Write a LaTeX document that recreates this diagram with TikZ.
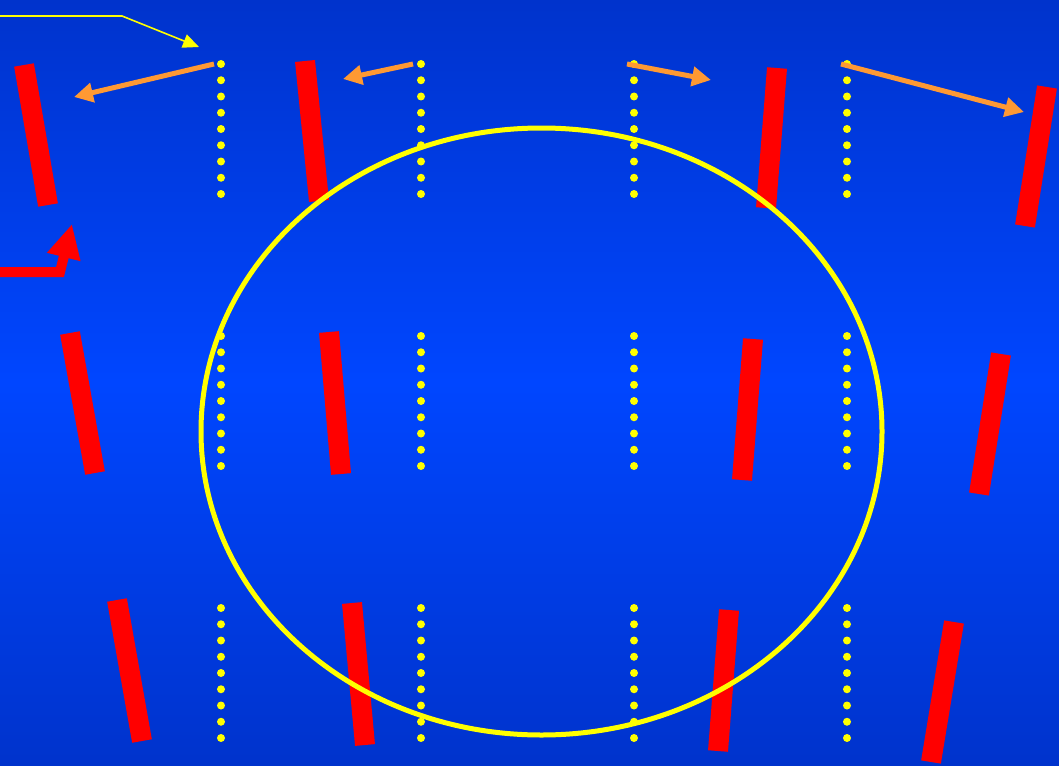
\documentclass[tikz,border=0pt]{standalone}
\usetikzlibrary{arrows.meta}
\definecolor{bgtop}{RGB}{0,51,204}
\definecolor{bgmid}{RGB}{0,70,255}
\definecolor{barred}{RGB}{255,0,0}
\definecolor{dotyel}{RGB}{255,255,0}
\definecolor{orng}{RGB}{255,153,51}
\tikzset{
  bar/.style={barred, line width=20pt},
  dotc/.style={dotyel},
  orarrow/.style={orng, line width=5pt, -{Triangle[length=19pt,width=19pt]}},
  ylarrow/.style={dotyel, line width=1.6pt, -{Triangle[length=16pt,width=14pt]}},
  redarrow/.style={barred, line width=10pt, miter limit=10, -{Triangle[length=34pt,width=32pt]}},
  ring/.style={dotyel, line width=5pt}
}
\begin{document}
\begin{tikzpicture}[x=1pt,y=-1pt]
\useasboundingbox (0,0) rectangle (1059,765);
\shade[top color=bgtop, bottom color=bgtop, middle color=bgmid] (0,0) rectangle (1059,765);
% red bars
\foreach \a/\b/\c/\d in {24/65/48/205, 305/61/319/201, 777/68/766/208, 1047/87/1025/226,
  70/333/95/473, 329/332/341/474, 753/339/742/480, 1001/354/979/494,
  117/600/142/741, 352/603/365/745, 729/610/718/751, 954/622/931/762}
  \draw[bar] (\a,\b) -- (\c,\d);
% dotted columns
\foreach \x in {221,421,634,847}
  \foreach \y in {64,336,608}
    \foreach \i in {0,...,8}
      \fill[dotc] (\x,\y+\i*16.25) circle (4);
% circle
\draw[ring] (541.5,431.5) ellipse (340.5 and 303.5);
% orange arrows
\coordinate (o1s) at (214,64); \coordinate (o1e) at (74,97);
\coordinate (o2s) at (413,64); \coordinate (o2e) at (343,79);
\coordinate (o3s) at (627,64); \coordinate (o3e) at (711,80);
\coordinate (o4s) at (841,64); \coordinate (o4e) at (1024,112);
\draw[orarrow] (o1s) -- (o1e);
\draw[orarrow] (o2s) -- (o2e);
\draw[orarrow] (o3s) -- (o3e);
\draw[orarrow] (o4s) -- (o4e);
% yellow thin arrow
\coordinate (y0) at (0,16); \coordinate (y1) at (122,16); \coordinate (y2) at (199,47);
\draw[ylarrow] (y0) -- (y1) -- (y2);
% red arrow
\coordinate (r0) at (0,272); \coordinate (r1) at (60,272); \coordinate (r2) at (72,224);
\draw[redarrow] (r0) -- (r1) -- (r2);
\end{tikzpicture}
\end{document}
